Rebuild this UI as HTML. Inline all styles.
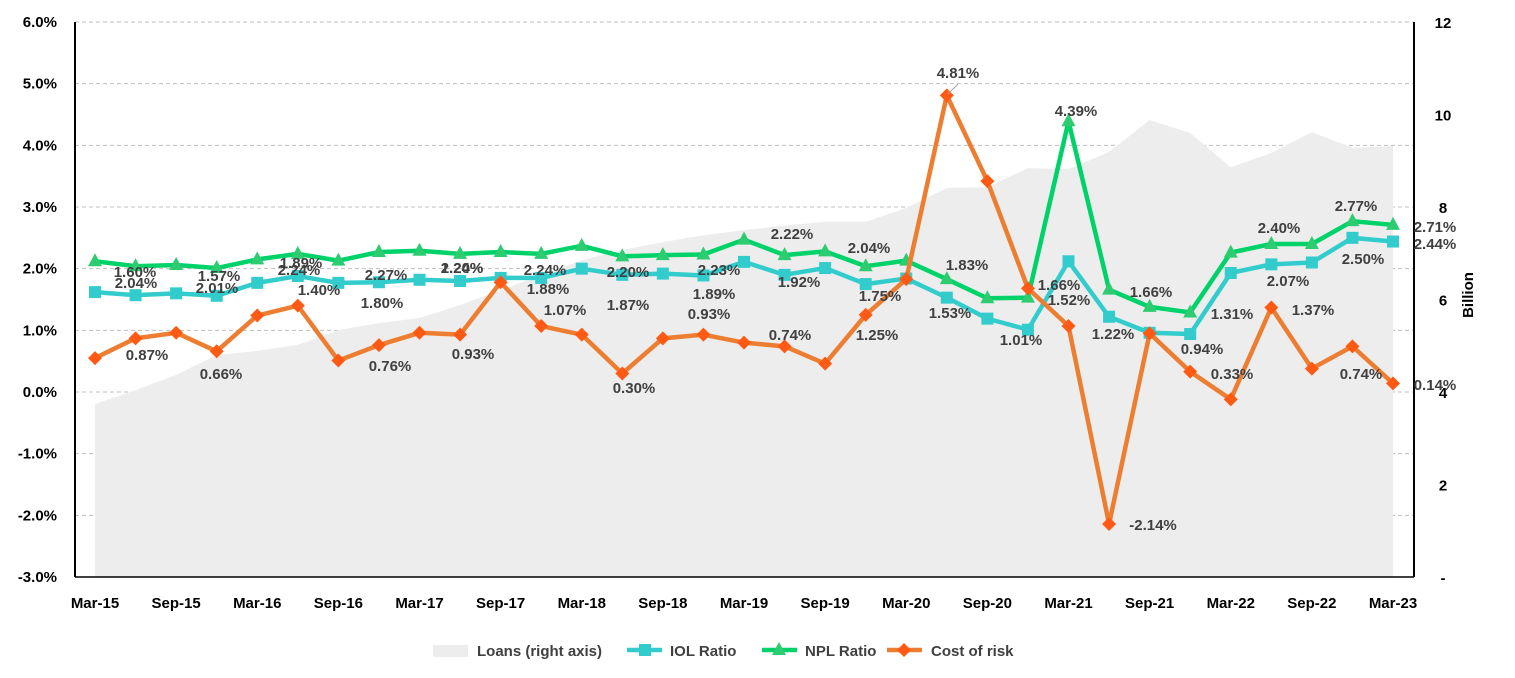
<!DOCTYPE html>
<html><head><meta charset="utf-8"><style>
body{margin:0;background:#fff;}
svg{font-family:"Liberation Sans",Arial,sans-serif;font-weight:bold;}
</style></head><body>
<svg id="chart" width="1515" height="673" xmlns="http://www.w3.org/2000/svg">
<g id="grid"></g>
<g id="area"></g>
<g id="series"></g>
<g id="axes"></g>
<g id="labels" font-size="15" fill="#404040"></g>
<g id="legend" font-size="15" fill="#404040"></g>
</svg>
<script>
const categories=["Mar-15","Jun-15","Sep-15","Dec-15","Mar-16","Jun-16","Sep-16","Dec-16","Mar-17","Jun-17","Sep-17","Dec-17","Mar-18","Jun-18","Sep-18","Dec-18","Mar-19","Jun-19","Sep-19","Dec-19","Mar-20","Jun-20","Sep-20","Dec-20","Mar-21","Jun-21","Sep-21","Dec-21","Mar-22","Jun-22","Sep-22","Dec-22","Mar-23"];
const loans=[3.74,4.04,4.37,4.8,4.89,5.02,5.34,5.49,5.6,5.88,6.2,6.53,6.85,7.07,7.24,7.39,7.5,7.6,7.68,7.68,7.98,8.41,8.43,8.84,8.82,9.19,9.88,9.6,8.86,9.17,9.62,9.28,9.32];
const iol=[1.62,1.57,1.6,1.56,1.77,1.88,1.77,1.78,1.82,1.8,1.85,1.85,2.0,1.9,1.92,1.89,2.11,1.9,2.01,1.75,1.84,1.53,1.19,1.01,2.12,1.22,0.96,0.94,1.93,2.07,2.1,2.5,2.44];
const npl=[2.12,2.04,2.06,2.01,2.15,2.24,2.13,2.27,2.29,2.24,2.27,2.24,2.37,2.20,2.22,2.23,2.47,2.22,2.28,2.04,2.13,1.83,1.52,1.53,4.39,1.66,1.38,1.29,2.26,2.40,2.40,2.77,2.71];
const cor=[0.55,0.87,0.96,0.66,1.24,1.40,0.51,0.76,0.96,0.93,1.78,1.07,0.93,0.30,0.87,0.93,0.80,0.74,0.46,1.25,1.83,4.81,3.42,1.68,1.07,-2.14,0.95,0.33,-0.12,1.37,0.38,0.74,0.14];
const leftTicks=[6,5,4,3,2,1,0,-1,-2,-3];
const rightTicks=[12,10,8,6,4,2,0];
const NS="http://www.w3.org/2000/svg";
const X0=95,DX=(1393-95)/32,TOP=22,BOT=577;
function x(i){return X0+DX*i;}
function yL(v){return BOT-(v+3)/9*(BOT-TOP);}
function yR(v){return BOT-v/12*(BOT-TOP);}
function mk(tag,attrs,parent){const e=document.createElementNS(NS,tag);for(const k in attrs)e.setAttribute(k,attrs[k]);parent.appendChild(e);return e;}
const grid=document.getElementById('grid'),axes=document.getElementById('axes'),area=document.getElementById('area'),series=document.getElementById('series');
leftTicks.forEach(v=>{
  if(v!==-3){const g=mk('line',{x1:75,x2:1414,y1:yL(v),y2:yL(v),stroke:'#bfbfbf','stroke-dasharray':'4,3'},grid);
  
  }
  const t=mk('text',{x:57,y:yL(v)+5,'text-anchor':'end','font-size':15,fill:'#000'},axes);
  
  
  t.textContent=v.toFixed(1)+'%';
});
rightTicks.forEach(v=>{
  const t=mk('text',{x:1443,y:yR(v)+6,'text-anchor':'middle','font-size':15,fill:'#000'},axes);
  
  
  t.textContent=v===0?'-':String(v);
});
categories.forEach((c,i)=>{if(i%2===0){
  const t=mk('text',{x:x(i),y:608,'text-anchor':'middle','font-size':15,fill:'#000'},axes);
  
  
  t.textContent=c;}});
let ap='M'+x(0)+','+BOT;loans.forEach((v,i)=>ap+=' L'+x(i)+','+yR(v));ap+=' L'+x(32)+','+BOT+'Z';
const a=mk('path',{d:ap,fill:'#ededed'},area);


function line(vals,color,name,marker){
  const p=mk('polyline',{points:vals.map((v,i)=>x(i)+','+yL(v)).join(' '),fill:'none',stroke:color,'stroke-width':4.5,'stroke-linejoin':'round'},series);
  
  
  vals.forEach((v,i)=>{const cx=x(i),cy=yL(v);let m;
    if(marker==='sq')m=mk('rect',{x:cx-6,y:cy-6,width:12,height:12,fill:color},series);
    else if(marker==='tri')m=mk('polygon',{points:`${cx},${cy-8} ${cx+7},${cy+5} ${cx-7},${cy+5}`,fill:'#2ecc71'},series);
    else m=mk('polygon',{points:`${cx},${cy-7} ${cx+7},${cy} ${cx},${cy+7} ${cx-7},${cy}`,fill:'#ff5a14'},series);
    
    });
}
line(iol,'#33cccc','iol','sq');
line(npl,'#00d26a','npl','tri');
line(cor,'#ed7d31','cost-of-risk','dia');
mk('line',{x1:75,x2:75,y1:TOP,y2:BOT,stroke:'#000','stroke-width':2},axes);
mk('line',{x1:1414,x2:1414,y1:TOP,y2:BOT,stroke:'#000','stroke-width':2},axes);
mk('line',{x1:75,x2:1414,y1:BOT,y2:BOT,stroke:'#000','stroke-width':1.5},axes);
const bt=mk('text',{x:0,y:0,'font-size':15,fill:'#000',transform:'translate(1473,295) rotate(-90)','text-anchor':'middle'},axes);


bt.textContent='Billion';
const labs=[["1.60%",135,277],["2.04%",136,288],["1.57%",219,281],["2.01%",217,293],["1.89%",301,268],["2.24%",299,275],["1.40%",319,295],["2.27%",386,280],["1.80%",382,308],["1.20%",462,273],["2.24%",462,273],["2.24%",545,275],["1.88%",548,294],["1.07%",565,315],["0.87%",147,360],["0.66%",221,379],["0.76%",390,371],["0.93%",473,359],["2.20%",628,277],["1.87%",628,310],["0.30%",634,393],["2.23%",719,275],["1.89%",714,299],["0.93%",709,319],["2.22%",792,239],["1.92%",799,287],["0.74%",790,340],["2.04%",869,253],["1.75%",880,301],["1.25%",877,340],["1.83%",967,270],["1.53%",950,318],["1.01%",1021,345],["4.39%",1076,116],["1.66%",1059,290],["1.52%",1069,305],["1.22%",1113,339],["1.66%",1151,297],["0.94%",1202,354],["1.31%",1232,319],["0.33%",1232,379],["2.40%",1279,233],["2.07%",1288,286],["1.37%",1313,315],["2.77%",1356,211],["2.50%",1363,264],["0.74%",1361,379],["2.71%",1435,232],["2.44%",1435,249],["0.14%",1435,390],["4.81%",958,78],["-2.14%",1153,530]];
const lg=document.getElementById('labels');
labs.forEach(l=>{const t=mk('text',{x:l[1],y:l[2],'text-anchor':'middle'},lg);
  
  
  t.textContent=l[0];});
mk('line',{x1:958,y1:84,x2:948,y2:94,stroke:'#a0a0a0','stroke-width':1},lg);
const L=document.getElementById('legend');
function ent(name,txt,tx,draw){const g=mk('g',{},L);
  
  
  draw(g);const t=mk('text',{x:tx,y:656},g);t.textContent=txt;}
ent('legend-entry-loans','Loans (right axis)',477,g=>mk('rect',{x:433,y:645,width:35,height:12,fill:'#ededed'},g));
ent('legend-entry-iol','IOL Ratio',670,g=>{mk('line',{x1:627,x2:662,y1:650,y2:650,stroke:'#33cccc','stroke-width':4.5},g);mk('rect',{x:639,y:644,width:12,height:12,fill:'#33cccc'},g);});
ent('legend-entry-npl','NPL Ratio',805,g=>{mk('line',{x1:762,x2:797,y1:650,y2:650,stroke:'#00d26a','stroke-width':4.5},g);mk('polygon',{points:'779,642 786,655 772,655',fill:'#2ecc71'},g);});
ent('legend-entry-cost-of-risk','Cost of risk',931,g=>{mk('line',{x1:887,x2:922,y1:650,y2:650,stroke:'#ed7d31','stroke-width':4.5},g);mk('polygon',{points:'904,643 911,650 904,657 897,650',fill:'#ff5a14'},g);});
</script>
</body></html>
